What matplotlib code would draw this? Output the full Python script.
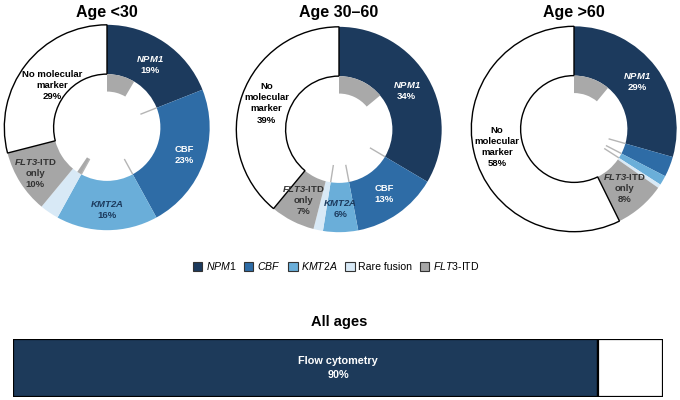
import matplotlib
matplotlib.use('Agg')
import matplotlib.pyplot as plt
import numpy as np
from matplotlib.patches import Patch

plt.rcParams['font.family'] = ['Liberation Sans', 'DejaVu Sans']
plt.rcParams['mathtext.fontset'] = 'custom'
plt.rcParams['mathtext.rm'] = 'Liberation Sans'
plt.rcParams['mathtext.it'] = 'Liberation Sans:italic'
plt.rcParams['mathtext.bf'] = 'Liberation Sans:bold'
plt.rcParams['mathtext.bfit'] = 'Liberation Sans:italic:bold'

# ---------------- data ----------------
categories = ['NPM1', 'CBF', 'KMT2A', 'Rare fusion', 'FLT3-ITD only', 'No molecular marker']
group_titles = ['Age <30', 'Age 30\u201360', 'Age >60']

shares_lt30 = [19, 23, 16, 3, 10, 29]
shares_30_60 = [33.5, 13.5, 5.5, 1.5, 7, 39]
shares_gt60 = [29.4, 3.2, 1.5, 0.6, 8, 57.3]

# FLT3-ITD co-occurrence within each category (inner ring, % of total)
flt3_lt30 = [8.5, 0, 0, 1.4, 0, 0]
flt3_30_60 = [14, 0, 0, 0, 0, 0]
flt3_gt60 = [11, 0, 0, 0, 0, 0]

pct_lt30 = ['19%', '23%', '16%', '', '10%', '29%']
pct_30_60 = ['34%', '13%', '6%', '', '7%', '39%']
pct_gt60 = ['29%', '', '', '', '8%', '58%']

legend_labels = [r'$\mathit{NPM1}$', r'$\mathit{CBF}$', r'$\mathit{KMT2A}$',
                 'Rare fusion', r'$\mathit{FLT3}$-ITD']

flow_label = 'Flow cytometry'
flow_share = 90

# ---------------- styles ----------------
colors = ['#1c3a5d', '#2e6ca6', '#6aaed9', '#d8e9f6', '#a6a6a6', '#ffffff']
label_colors = ['white', 'white', '#1c3a5d', None, '#333333', 'black']
inner_gray = '#a9a9a9'
line_gray = '#b5b5b5'
label_radius = [
    [0.74, 0.80, 0.80, 0.8, 0.83, 0.67],
    [0.76, 0.77, 0.77, 0.8, 0.77, 0.75],
    [0.77, 0.77, 0.77, 0.8, 0.76, 0.77],
]

fig = plt.figure(figsize=(6.8, 4.0), dpi=100)

centers = [(107, 127.5), (339, 129.5), (574, 129)]
shares_all = [shares_lt30, shares_30_60, shares_gt60]
flt3_all = [flt3_lt30, flt3_30_60, flt3_gt60]
pcts_all = [pct_lt30, pct_30_60, pct_gt60]
none_names = ['No molecular\nmarker', 'No\nmolecular\nmarker', 'No\nmolecular\nmarker']

AX = 230
for g in range(3):
    cx, cy = centers[g]
    ax = fig.add_axes([(cx - AX / 2) / 680, (400 - cy - AX / 2) / 400, AX / 680, AX / 400])
    vals = shares_all[g]
    wedges, _ = ax.pie(vals, colors=colors, radius=1.0, startangle=90, counterclock=False,
                       wedgeprops=dict(width=0.48, linewidth=0))
    wedges[-1].set_edgecolor('black')
    wedges[-1].set_linewidth(1.0)
    # inner ring: FLT3-ITD co-occurrence
    inner_vals, inner_cols = [], []
    for v, f in zip(vals, flt3_all[g]):
        if f > 0:
            inner_vals.append(f)
            inner_cols.append(inner_gray)
        inner_vals.append(v - f)
        inner_cols.append('none')
    ax.pie(inner_vals, colors=inner_cols, radius=0.52, startangle=90, counterclock=False,
           wedgeprops=dict(width=0.17, linewidth=0))
    # thin separators in the inner ring
    cum = np.cumsum(vals)
    for k in range(3):
        th = np.deg2rad(90 - 3.6 * cum[k])
        ax.plot([0.35 * np.cos(th), 0.52 * np.cos(th)], [0.35 * np.sin(th), 0.52 * np.sin(th)],
                color=line_gray, lw=1.0, solid_capstyle='butt')
    # labels
    starts = np.concatenate([[0], cum[:-1]])
    for k in range(6):
        if pcts_all[g][k] == '':
            continue
        mid = np.deg2rad(90 - 3.6 * (starts[k] + vals[k] / 2))
        r = label_radius[g][k]
        if k == 0:
            name = r'$\mathbfit{NPM1}$'
        elif k == 1:
            name = 'CBF'
        elif k == 2:
            name = r'$\mathbfit{KMT2A}$'
        elif k == 4:
            name = r'$\mathbfit{FLT3}$-ITD' + '\nonly'
        else:
            name = none_names[g]
        ax.text(r * np.cos(mid), r * np.sin(mid), name + '\n' + pcts_all[g][k],
                ha='center', va='center', fontsize=6.8, fontweight='bold',
                color=label_colors[k], linespacing=1.3)
    ax.set_xlim(-1.12, 1.12)
    ax.set_ylim(-1.12, 1.12)
    ax.set_aspect('equal')
    ax.axis('off')
    fig.text(cx / 680, 1 - 12 / 400, group_titles[g], ha='center', va='center',
             fontsize=11.5, fontweight='bold')

# legend
handles = [Patch(facecolor=c, edgecolor='#333333', linewidth=0.8) for c in colors[:5]]
fig.legend(handles, legend_labels, loc='center', bbox_to_anchor=(336 / 680, 1 - 266 / 400),
           ncol=5, frameon=False, fontsize=7.6, handlelength=0.9, handleheight=0.9,
           handletextpad=0.35, columnspacing=0.7, borderaxespad=0)

# bottom bar
fig.text(339 / 680, 1 - 322 / 400, 'All ages', ha='center', va='center',
         fontsize=10.5, fontweight='bold')
bx = fig.add_axes([13 / 680, 3 / 400, 650 / 680, 58 / 400])
bx.barh([0], [flow_share], color='#1d3a5a', edgecolor='black', linewidth=1.6, height=1.0)
bx.barh([0], [100 - flow_share], left=[flow_share], color='white', edgecolor='black',
        linewidth=1.6, height=1.0)
bx.set_xlim(0, 100)
bx.set_ylim(-0.5, 0.5)
bx.axis('off')
bx.text(50, 0, f'{flow_label}\n{flow_share}%', ha='center', va='center', color='white',
        fontsize=7.8, fontweight='bold', linespacing=1.6)

fig.savefig('out.png', dpi=100)
